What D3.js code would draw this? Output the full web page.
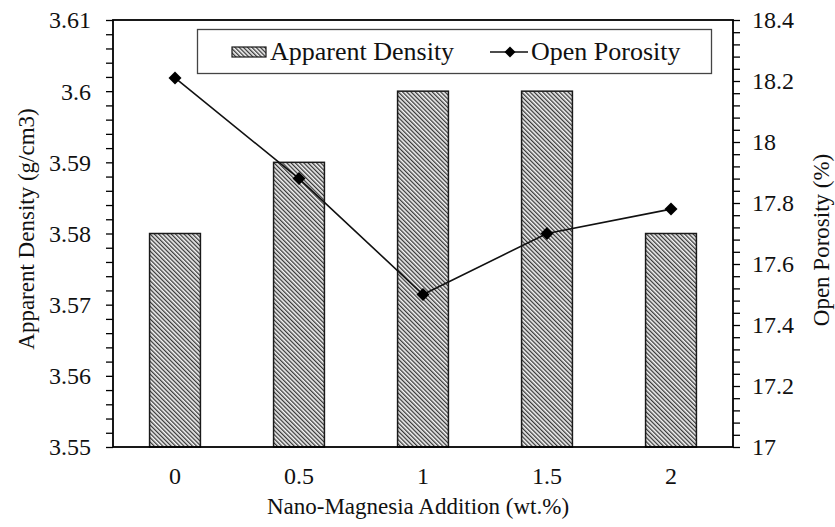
<!DOCTYPE html>
<html>
<head>
<meta charset="utf-8">
<script src="https://cdn.jsdelivr.net/npm/d3@7"></script>
<style>
  html, body { margin: 0; padding: 0; background: #fff; }
  svg { display: block; }
  svg text { font-family: "Liberation Serif", "DejaVu Serif", "Times New Roman", Times, serif; }
</style>
</head>
<body>
<svg id="chart" width="835" height="527"></svg>
<script>
// ---- data ----
const categories = ["0", "0.5", "1", "1.5", "2"];
const apparentDensity = [3.58, 3.59, 3.60, 3.60, 3.58];
const openPorosity = [18.21, 17.88, 17.50, 17.70, 17.78];
const leftTicks = [3.55, 3.56, 3.57, 3.58, 3.59, 3.60, 3.61];
const leftTickLabels = ["3.55", "3.56", "3.57", "3.58", "3.59", "3.6", "3.61"];
const rightTicks = [17, 17.2, 17.4, 17.6, 17.8, 18, 18.2, 18.4];
const rightTickLabels = ["17", "17.2", "17.4", "17.6", "17.8", "18", "18.2", "18.4"];
const seriesNames = ["Apparent Density", "Open Porosity"];
const xTitle = "Nano-Magnesia Addition (wt.%)";
const yLeftTitle = "Apparent Density (g/cm3)";
const yRightTitle = "Open Porosity (%)";

// ---- layout ----
const L = 113, R = 733, T = 20, B = 447;
const FONT = "'Liberation Serif', 'DejaVu Serif', 'Times New Roman', serif";
const svg = d3.select("#chart");

const x = d3.scaleBand().domain(categories).range([L, R]).paddingInner(0.59).paddingOuter(0.295);
const yL = d3.scaleLinear().domain([3.55, 3.61]).range([B, T]);
const yR = d3.scaleLinear().domain([17, 18.4]).range([B, T]);

// hatch pattern
const defs = svg.append("defs");
const pat = defs.append("pattern").attr("id", "hatch")
  .attr("patternUnits", "userSpaceOnUse").attr("width", 3).attr("height", 3)
  .attr("patternTransform", "rotate(-45)");
pat.append("rect").attr("width", 3).attr("height", 3).attr("fill", "#f4f4f4");
pat.append("rect").attr("width", 1.3).attr("height", 3).attr("fill", "#383838");

// bars
svg.append("g").selectAll("rect").data(categories).join("rect")
  .attr("x", d => x(d))
  .attr("y", (d, i) => yL(apparentDensity[i]))
  .attr("width", x.bandwidth())
  .attr("height", (d, i) => B - yL(apparentDensity[i]))
  .attr("fill", "url(#hatch)")
  .attr("stroke", "#1a1a1a").attr("stroke-width", 1.5);

// axes
const minorL = d3.range(0, 31).map(i => 3.55 + i * 0.002);
const minorR = d3.range(0, 36).map(i => 17 + i * 0.04);

const axL = d3.axisLeft(yL).tickValues(minorL).tickSize(7).tickFormat("");
const gL = svg.append("g").attr("transform", `translate(${L},0)`).call(axL);
const axR = d3.axisRight(yR).tickValues(minorR).tickSize(7).tickFormat("");
const gR = svg.append("g").attr("transform", `translate(${R},0)`).call(axR);
[gL, gR].forEach(g => {
  g.select(".domain").remove();
  g.selectAll(".tick line").attr("stroke", "#000").attr("stroke-width", 1.3);
});

// frame
svg.append("rect").attr("x", L).attr("y", T).attr("width", R - L).attr("height", B - T)
  .attr("fill", "none").attr("stroke", "#000").attr("stroke-width", 1.8);

// tick labels
svg.append("g").selectAll("text").data(leftTicks).join("text")
  .attr("x", 91).attr("y", d => yL(d)).attr("dy", "0.35em")
  .attr("text-anchor", "end").attr("font-size", 24).attr("font-family", FONT).attr("fill", "#111")
  .text((d, i) => leftTickLabels[i]);
svg.append("g").selectAll("text").data(rightTicks).join("text")
  .attr("x", 752).attr("y", d => yR(d)).attr("dy", "0.35em")
  .attr("text-anchor", "start").attr("font-size", 24).attr("font-family", FONT).attr("fill", "#111")
  .text((d, i) => rightTickLabels[i]);
svg.append("g").selectAll("text").data(categories).join("text")
  .attr("x", d => x(d) + x.bandwidth() / 2).attr("y", 484)
  .attr("text-anchor", "middle").attr("font-size", 24).attr("font-family", FONT).attr("fill", "#111")
  .text(d => d);

// titles
svg.append("text").attr("x", 418).attr("y", 514).attr("text-anchor", "middle")
  .attr("font-size", 23).attr("font-family", FONT).attr("fill", "#111").text(xTitle);
svg.append("text").attr("transform", "translate(34,229) rotate(-90)")
  .attr("text-anchor", "middle").attr("font-size", 23).attr("font-family", FONT).attr("fill", "#111").text(yLeftTitle);
svg.append("text").attr("transform", "translate(829,240) rotate(-90)")
  .attr("text-anchor", "middle").attr("font-size", 23).attr("font-family", FONT).attr("fill", "#111").text(yRightTitle);

// line series
const cx = i => x(categories[i]) + x.bandwidth() / 2;
const line = d3.line().x((d, i) => cx(i)).y(d => yR(d));
svg.append("path").datum(openPorosity).attr("d", line)
  .attr("fill", "none").attr("stroke", "#111").attr("stroke-width", 1.6);
const diamond = d3.symbol().type(d3.symbolSquare).size(85);
svg.append("g").selectAll("path").data(openPorosity).join("path")
  .attr("d", diamond)
  .attr("transform", (d, i) => `translate(${cx(i)},${yR(d)}) rotate(45)`)
  .attr("fill", "#000");

// legend
const lg = svg.append("g");
lg.append("rect").attr("x", 197.5).attr("y", 29.5).attr("width", 514).attr("height", 44)
  .attr("fill", "#fff").attr("stroke", "#444").attr("stroke-width", 1.3);
lg.append("rect").attr("x", 232).attr("y", 47).attr("width", 34).attr("height", 10)
  .attr("fill", "url(#hatch)").attr("stroke", "#1a1a1a").attr("stroke-width", 1.2);
lg.append("text").attr("x", 270).attr("y", 60).attr("font-size", 26).attr("font-family", FONT).attr("fill", "#111")
  .text(seriesNames[0]);
lg.append("line").attr("x1", 490).attr("x2", 528).attr("y1", 52).attr("y2", 52)
  .attr("stroke", "#111").attr("stroke-width", 1.6);
lg.append("path").attr("d", d3.symbol().type(d3.symbolSquare).size(60))
  .attr("transform", "translate(510,52) rotate(45)").attr("fill", "#000");
lg.append("text").attr("x", 531).attr("y", 60).attr("font-size", 26).attr("font-family", FONT).attr("fill", "#111")
  .text(seriesNames[1]);
</script>
</body>
</html>
